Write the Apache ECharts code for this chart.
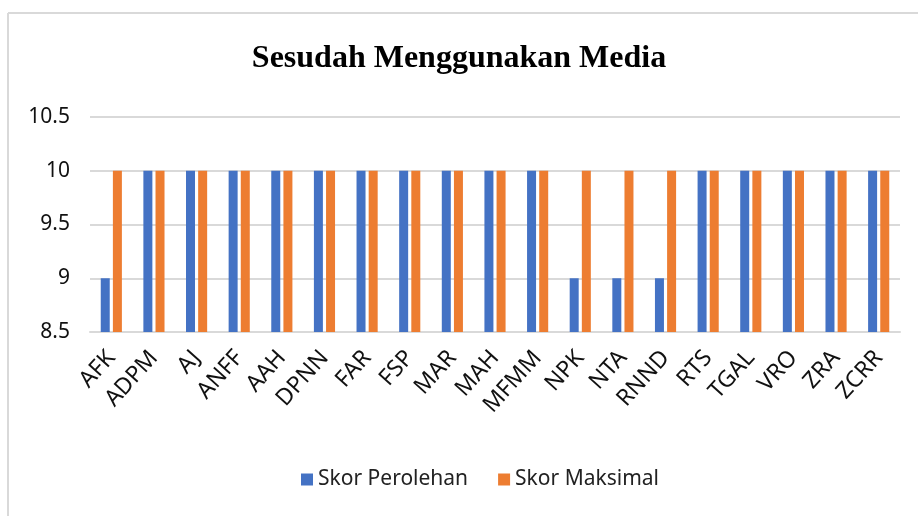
<!DOCTYPE html>
<html>
<head>
<meta charset="utf-8">
<script src="https://cdn.jsdelivr.net/npm/echarts@6/dist/echarts.min.js"></script>
<style>
  html, body { margin: 0; padding: 0; background: #fff; }
  #main { width: 918px; height: 516px; }
</style>
</head>
<body>
<div id="main"></div>
<script>
var myChart = echarts.init(document.getElementById('main'));

var students = ['AFK', 'ADPM', 'AJ', 'ANFF', 'AAH', 'DPNN', 'FAR', 'FSP', 'MAR', 'MAH',
  'MFMM', 'NPK', 'NTA', 'RNND', 'RTS', 'TGAL', 'VRO', 'ZRA', 'ZCRR'];
var skorPerolehan = [9, 10, 10, 10, 10, 10, 10, 10, 10, 10, 10, 9, 9, 9, 10, 10, 10, 10, 10];
var skorMaksimal = [10, 10, 10, 10, 10, 10, 10, 10, 10, 10, 10, 10, 10, 10, 10, 10, 10, 10, 10];

var labelFont = '"Noto Sans", "Open Sans", sans-serif';

option = {
  animation: false,
  backgroundColor: '#fff',
  title: {
    text: 'Sesudah Menggunakan Media',
    left: 'center',
    top: 38,
    textStyle: {
      fontFamily: '"Liberation Serif", "DejaVu Serif", serif',
      fontWeight: 'bold',
      fontSize: 32,
      color: '#000'
    }
  },
  // frame lines on top and left like the original picture
  graphic: [
    {
      type: 'line',
      shape: { x1: 8, y1: 13, x2: 918, y2: 13 },
      style: { stroke: '#d9d9d9', lineWidth: 2 }
    },
    {
      type: 'line',
      shape: { x1: 8, y1: 13, x2: 8, y2: 516 },
      style: { stroke: '#d9d9d9', lineWidth: 2 }
    }
  ],
  legend: {
    bottom: 21,
    left: 296,
    itemWidth: 12,
    itemHeight: 12,
    itemGap: 30,
    icon: 'rect',
    textStyle: {
      fontFamily: labelFont,
      fontSize: 21,
      color: '#222'
    },
    data: ['Skor Perolehan', 'Skor Maksimal']
  },
  grid: {
    left: 90,
    right: 18,
    top: 117,
    bottom: 184
  },
  xAxis: {
    type: 'category',
    data: students,
    axisTick: { show: false },
    axisLine: { lineStyle: { color: '#d9d9d9', width: 2 } },
    axisLabel: {
      rotate: 48,
      interval: 0,
      margin: 22,
      fontFamily: labelFont,
      fontSize: 23,
      color: '#111'
    }
  },
  yAxis: {
    type: 'value',
    min: 8.5,
    max: 10.5,
    interval: 0.5,
    axisLine: { show: false },
    axisTick: { show: false },
    splitLine: { lineStyle: { color: '#d9d9d9', width: 2 } },
    axisLabel: {
      margin: 20,
      fontFamily: labelFont,
      fontSize: 21,
      color: '#111'
    }
  },
  series: [
    {
      name: 'Skor Perolehan',
      type: 'bar',
      barWidth: 9,
      barGap: '35%',
      itemStyle: { color: '#4472c4' },
      data: skorPerolehan
    },
    {
      name: 'Skor Maksimal',
      type: 'bar',
      barWidth: 9,
      itemStyle: { color: '#ed7d31' },
      data: skorMaksimal
    }
  ]
};

myChart.setOption(option);
</script>
</body>
</html>
